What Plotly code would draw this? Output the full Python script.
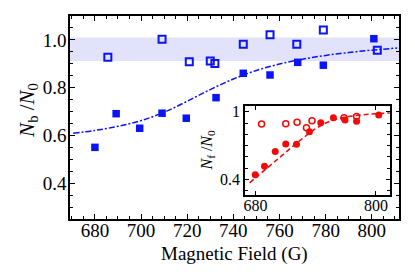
import plotly.graph_objects as go

# Main panel: N_b/N_0 vs magnetic field
field_open = [685.6, 709.1, 720.9, 730.0, 732.0, 744.3, 755.9, 767.5, 779.0, 802.4]
nb_open = [0.927, 1.003, 0.908, 0.912, 0.901, 0.982, 1.021, 0.982, 1.041, 0.957]

field_filled = [680.0, 689.2, 699.4, 709.1, 719.6, 732.5, 744.3, 755.9, 767.9, 779.0, 800.9]
nb_filled = [0.550, 0.691, 0.630, 0.693, 0.672, 0.758, 0.860, 0.853, 0.906, 0.894, 1.005]

fit_field = [670.6, 680, 690, 700, 710, 720, 730, 740, 750, 760, 770, 780, 790, 800, 811]
fit_nb = [0.609, 0.621, 0.638, 0.662, 0.697, 0.743, 0.792, 0.836, 0.872, 0.899, 0.919, 0.935, 0.947, 0.957, 0.966]

band_low, band_high = 0.912, 1.01

# Inset: N_f/N_0
inset_open_field = [686.0, 710.1, 721.4, 730.7, 736.3, 768.2, 780.7]
inset_open_nf = [0.891, 0.894, 0.906, 0.858, 0.920, 0.947, 0.959]

inset_filled_field = [679.7, 688.9, 699.6, 710.1, 720.8, 733.7, 745.0, 757.6, 769.2, 780.7, 802.8]
inset_filled_nf = [0.442, 0.518, 0.648, 0.715, 0.713, 0.823, 0.902, 0.946, 0.926, 0.916, 0.972]

inset_fit_field = [674, 680, 690, 700, 710, 720, 730, 740, 750, 760, 770, 780, 790, 800, 814]
inset_fit_nf = [0.37, 0.415, 0.49, 0.565, 0.64, 0.715, 0.785, 0.85, 0.9, 0.933, 0.953, 0.966, 0.976, 0.983, 0.99]

main_ticks = [680, 700, 720, 740, 760, 780, 800]
main_yticks = [0.4, 0.6, 0.8, 1.0]

BLUE = "#0a14f5"
RED = "#f00a0a"
FONT = "Liberation Serif"

fig = go.Figure()

fig.add_trace(go.Scatter(x=fit_field, y=fit_nb, mode="lines", line_shape="spline",
                         line=dict(color=BLUE, width=1.5, dash="6px,2px,2px,2px"),
                         xaxis="x", yaxis="y", showlegend=False))
fig.add_trace(go.Scatter(x=field_filled, y=nb_filled, mode="markers",
                         marker=dict(symbol="square", size=7.5, color=BLUE),
                         xaxis="x", yaxis="y", showlegend=False))
fig.add_trace(go.Scatter(x=field_open, y=nb_open, mode="markers",
                         marker=dict(symbol="square-open", size=7, color=BLUE, line=dict(width=2)),
                         xaxis="x", yaxis="y", showlegend=False))

fig.add_trace(go.Scatter(x=inset_fit_field, y=inset_fit_nf, mode="lines", line_shape="spline",
                         line=dict(color=RED, width=1.5, dash="5px,3px"),
                         xaxis="x2", yaxis="y2", showlegend=False))
fig.add_trace(go.Scatter(x=inset_open_field, y=inset_open_nf, mode="markers",
                         marker=dict(symbol="circle-open", size=6, color=RED, line=dict(width=1.5)),
                         xaxis="x2", yaxis="y2", showlegend=False))
fig.add_trace(go.Scatter(x=inset_filled_field, y=inset_filled_nf, mode="markers",
                         marker=dict(symbol="circle", size=7, color=RED),
                         xaxis="x2", yaxis="y2", showlegend=False))

fig.add_shape(type="rect", xref="x domain", yref="y", x0=0, x1=1,
              y0=band_low, y1=band_high, fillcolor="#e2e2fb", line_width=0, layer="below")

axis_common = dict(showline=True, linecolor="black", linewidth=1.5, mirror="ticks",
                   ticks="inside", tickcolor="black", showgrid=False, zeroline=False,
                   automargin=False)

fig.update_layout(
    width=407, height=272,
    margin=dict(l=62, r=16.3, t=8, b=61.3, autoexpand=False),
    plot_bgcolor="white", paper_bgcolor="white",
    font=dict(family=FONT, size=19, color="black"),
    xaxis=dict(range=[669.2, 811.8], tickvals=main_ticks, ticklen=5, tickwidth=1,
               tickfont=dict(size=19), ticklabelstandoff=-7,
               minor=dict(dtick=5, tick0=680, ticklen=3, ticks="inside", tickcolor="black"),
               domain=[0, 1], **axis_common),
    yaxis=dict(range=[0.25, 1.1], tickvals=main_yticks, tickformat=".1f", ticklen=5, tickwidth=1,
               tickfont=dict(size=19), ticklabelstandoff=-2,
               minor=dict(dtick=0.05, tick0=0.4, ticklen=3, ticks="inside", tickcolor="black"),
               domain=[0, 1], **axis_common),
    xaxis2=dict(range=[669.5, 813.8], tickvals=[680, 800], ticklen=4, ticklabelstandoff=-5,
                domain=[0.532, 0.972], anchor="y2", tickfont=dict(size=16), **axis_common),
    yaxis2=dict(range=[0.26, 1.05], tickvals=[0.4, 1.0], ticktext=["0.4", "1"], ticklen=4,
                minor=dict(dtick=0.1, tick0=0.4, ticklen=3, ticks="inside", tickcolor="black"),
                domain=[0.117, 0.556], anchor="x2", tickfont=dict(size=16),
                **axis_common),
    annotations=[
        dict(text="Magnetic Field (G)", xref="paper", yref="paper", x=0.5, y=-0.174,
             xanchor="center", yanchor="middle", showarrow=False, font=dict(size=19)),
        dict(text="<i>N</i><sub>b</sub> /<i>N</i><sub>0</sub>", xref="paper", yref="paper",
             x=-0.128, y=0.537, xanchor="center", yanchor="middle", textangle=-90,
             showarrow=False, font=dict(size=21)),
        dict(text="<i>N</i><sub>f</sub> /<i>N</i><sub>0</sub>", xref="paper", yref="paper",
             x=0.418, y=0.34, xanchor="center", yanchor="middle", textangle=-90,
             showarrow=False, font=dict(size=16)),
    ],
)

fig.write_html("out.html")
